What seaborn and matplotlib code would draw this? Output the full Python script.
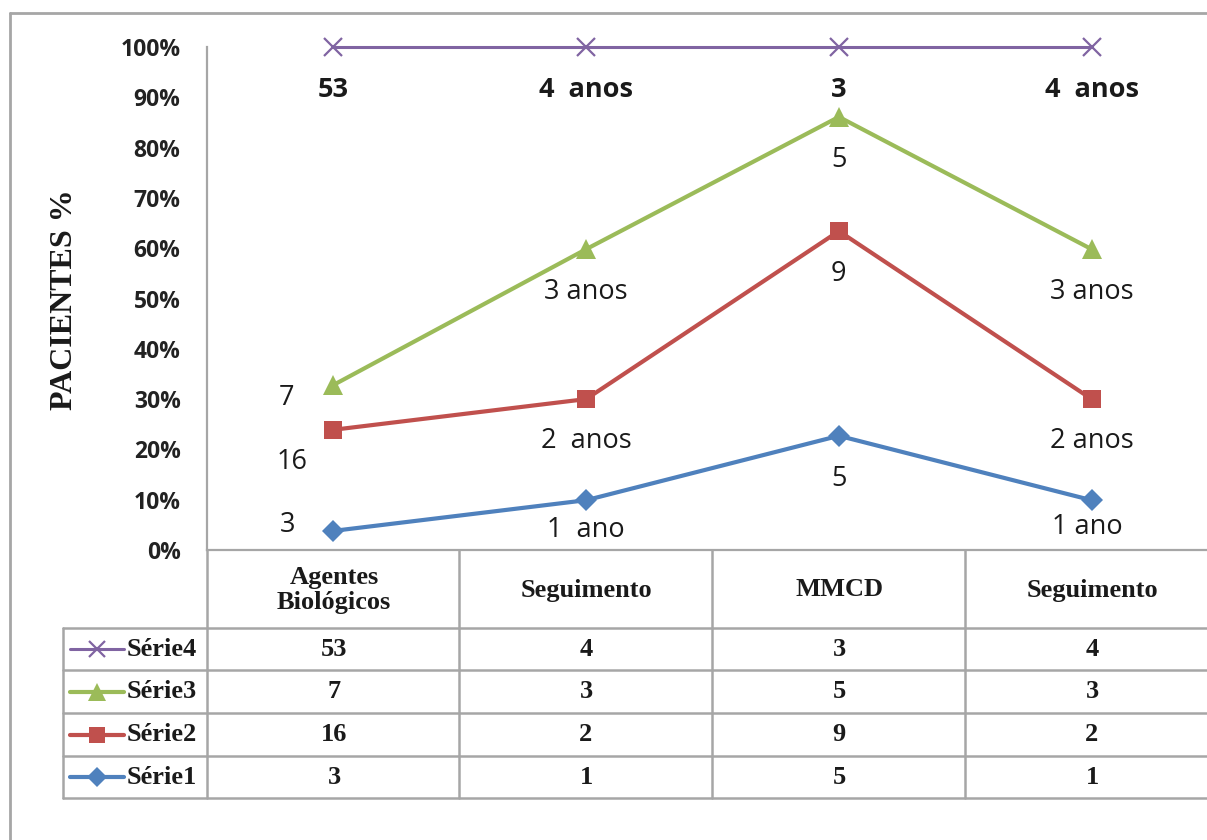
import numpy as np
import pandas as pd
import matplotlib
matplotlib.use("Agg")
import matplotlib.pyplot as plt
from matplotlib.lines import Line2D
import seaborn as sns

# ---------------- data ----------------
categories = ["Agentes\nBiológicos", "Seguimento", "MMCD", "Seguimento"]
series_names = ["Série1", "Série2", "Série3", "Série4"]
serie1 = [3.8, 9.9, 22.7, 9.9]
serie2 = [23.9, 30.0, 63.4, 30.0]
serie3 = [32.8, 59.8, 86.1, 59.8]
serie4 = [100, 100, 100, 100]
table_serie1 = ["3", "1", "5", "1"]
table_serie2 = ["16", "2", "9", "2"]
table_serie3 = ["7", "3", "5", "3"]
table_serie4 = ["53", "4", "3", "4"]
labels_serie1 = ["3", "1  ano", "5", "1 ano"]
labels_serie2 = ["16", "2  anos", "9", "2 anos"]
labels_serie3 = ["7", "3 anos", "5", "3 anos"]
labels_serie4 = ["53", "4  anos", "3", "4  anos"]
yticks = [0, 10, 20, 30, 40, 50, 60, 70, 80, 90, 100]
ylabel = "PACIENTES %"

# ---------------- style ----------------
sns.set_style("white")
plt.rcParams["font.family"] = ["Open Sans", "DejaVu Sans"]

W, H = 1207, 840
fig = plt.figure(figsize=(W / 100, H / 100), dpi=100)

def fx(px):
    return px / W

def fy(py):
    return 1 - py / H

GRAY = "#A6A6A6"
colors = {"Série1": "#4F81BD", "Série2": "#C0504D", "Série3": "#9BBB59", "Série4": "#8064A2"}
markers = {"Série1": "D", "Série2": "s", "Série3": "^", "Série4": "x"}
msizes = {"Série1": 11, "Série2": 13, "Série3": 14, "Série4": 13}
lws = {"Série1": 3.0, "Série2": 3.0, "Série3": 3.0, "Série4": 2.2}

ax = fig.add_axes([fx(207), fy(550), 1011 / W, 503 / H])

xpos = np.arange(len(categories))
values = {"Série1": serie1, "Série2": serie2, "Série3": serie3, "Série4": serie4}
for i, name in enumerate(series_names):
    df = pd.DataFrame({"x": xpos, "y": values[name]})
    sns.lineplot(data=df, x="x", y="y", ax=ax, color=colors[name], lw=lws[name],
                 marker=markers[name], markersize=msizes[name],
                 markeredgecolor=colors[name], markeredgewidth=1.6 if name == "Série4" else 0,
                 clip_on=False, zorder=3 + i)

ax.set_xlim(-0.5, 3.5)
ax.set_ylim(0, 100)
ax.set_xticks([])
ax.set_xlabel("")
ax.set_ylabel("")
ax.set_yticks(yticks)
ax.set_yticklabels([f"{v}%" for v in yticks], fontsize=16.5, fontweight="bold", color="#222222")
ax.tick_params(axis="y", length=0, pad=19)
for s in ["top", "right"]:
    ax.spines[s].set_visible(False)
for s in ["left", "bottom"]:
    ax.spines[s].set_color(GRAY)
    ax.spines[s].set_linewidth(1.6)

# data labels
label_sets = {"Série1": labels_serie1, "Série2": labels_serie2,
              "Série3": labels_serie3, "Série4": labels_serie4}
offsets = {
    "Série1": [(-46, 6), (0, -30), (0, -43), (-4, -27)],
    "Série2": [(-41, -32), (0, -42), (0, -43), (0, -42)],
    "Série3": [(-47, -13), (0, -43), (0, -43), (0, -43)],
    "Série4": [(0, -43), (0, -43), (0, -43), (0, -43)],
}
for name in series_names:
    for j, txt in enumerate(label_sets[name]):
        dx, dy = offsets[name][j]
        ax.annotate(txt, (xpos[j], values[name][j]), xytext=(dx, dy),
                    textcoords="offset pixels", ha="center", va="center",
                    fontsize=19.5,
                    fontweight="bold" if name == "Série4" else "normal",
                    color="#1a1a1a", annotation_clip=False)

# y label
fig.text(fx(65), fy(300), ylabel, rotation=90, ha="center", va="center",
         fontsize=23, fontweight="bold", family="Liberation Serif", color="#1a1a1a")

# ---------------- data table ----------------
def hline(y, x0, x1):
    fig.add_artist(Line2D([fx(x0), fx(x1)], [fy(y), fy(y)], color=GRAY, lw=1.8))

def vline(x, y0, y1):
    fig.add_artist(Line2D([fx(x), fx(x)], [fy(y0), fy(y1)], color=GRAY, lw=1.8))

col_centers = [334, 586, 839, 1092]
row_lines = [628, 670, 713, 756, 798]
for y in row_lines:
    hline(y, 63, 1220)
vline(207, 550, 798)
for x in [459, 712, 965]:
    vline(x, 550, 798)
vline(63, 628, 798)

serif = "Liberation Serif"
TFS = 19
for c, cat in zip(col_centers, categories):
    fig.text(fx(c), fy(590), cat, ha="center", va="center", fontsize=TFS,
             fontweight="bold", family=serif, color="#1a1a1a", linespacing=1.12)

table_rows = [("Série4", table_serie4), ("Série3", table_serie3),
              ("Série2", table_serie2), ("Série1", table_serie1)]
for r, (name, vals) in enumerate(table_rows):
    yc = (row_lines[r] + row_lines[r + 1]) / 2
    fig.add_artist(Line2D([fx(70), fx(124)], [fy(yc), fy(yc)], color=colors[name],
                          lw=lws[name]))
    fig.add_artist(Line2D([fx(97)], [fy(yc)], color=colors[name], marker=markers[name],
                          markersize=msizes[name] - 1, markeredgecolor=colors[name],
                          markeredgewidth=1.6 if name == "Série4" else 0, lw=0))
    fig.text(fx(127), fy(yc), name, ha="left", va="center", fontsize=TFS,
             fontweight="bold", family=serif, color="#1a1a1a")
    for c, v in zip(col_centers, vals):
        fig.text(fx(c), fy(yc), v, ha="center", va="center", fontsize=TFS,
                 fontweight="bold", family=serif, color="#1a1a1a")

# outer chart border
fig.add_artist(Line2D([fx(10), fx(10)], [fy(13), fy(845)], color=GRAY, lw=2))
fig.add_artist(Line2D([fx(10), fx(1210)], [fy(13), fy(13)], color=GRAY, lw=2))

fig.savefig("out.png", dpi=100)
